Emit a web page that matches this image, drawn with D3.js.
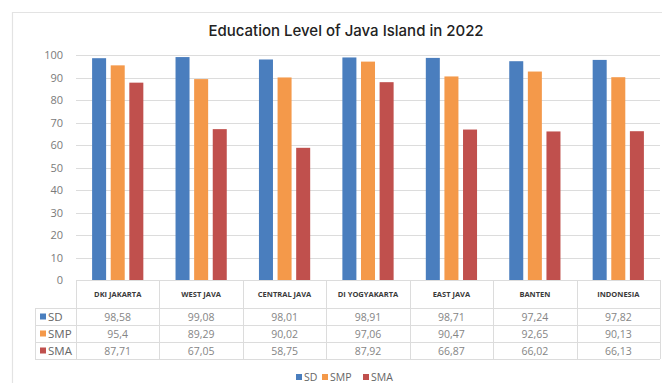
<!DOCTYPE html>
<html><head><meta charset="utf-8">
<script src="https://cdn.jsdelivr.net/npm/d3@7"></script>
<style>body{margin:0;background:#fff;}svg{display:block;}</style>
</head><body><svg id="c" width="662" height="383"></svg>
<script>
const categories = ["DKI JAKARTA","WEST JAVA","CENTRAL JAVA","DI YOGYAKARTA","EAST JAVA","BANTEN","INDONESIA"];
const seriesNames = ["SD","SMP","SMA"];
const sdValues  = [98.58, 99.08, 98.01, 98.91, 98.71, 97.24, 97.82];
const smpValues = [95.4, 89.29, 90.02, 97.06, 90.47, 92.65, 90.13];
const smaValues = [87.71, 67.05, 58.75, 87.92, 66.87, 66.02, 66.13];
const yTicks = [0,10,20,30,40,50,60,70,80,90,100];
const title = "Education Level of Java Island in 2022";

const colors = {SD:"#4A7EBE", SMP:"#F4994A", SMA:"#C0504D"};
const series = {SD: sdValues, SMP: smpValues, SMA: smaValues};

const svg = d3.select("#c");
const L = 76, R = 660, T = 55, B = 280;
const grid = "#dcdcdc";

// outer frame
svg.append("path").attr("d","M12.5,400 V12.5 H700").attr("fill","none").attr("stroke","#e3e3e3").attr("stroke-width",1.2);

svg.append("text").attr("x",346).attr("y",36).attr("text-anchor","middle")
  .attr("font-family","Inter, sans-serif").attr("font-size",15).attr("font-weight",500).attr("fill","#222")
  .text(title);

const y = d3.scaleLinear().domain([0,100]).range([B,T]);
const x = d3.scaleBand().domain(categories).range([L,R]).paddingInner(0).paddingOuter(0);
const xs = d3.scaleBand().domain(seriesNames).range([0,x.bandwidth()]).paddingOuter(0.865).paddingInner(0.247);

// grid
svg.append("g").selectAll("line").data(yTicks.filter(d=>d>0)).join("line")
  .attr("x1",L).attr("x2",R).attr("y1",d=>Math.round(y(d))+0.5).attr("y2",d=>Math.round(y(d))+0.5)
  .attr("stroke",grid).attr("stroke-width",1);

// y axis labels
const yAxis = d3.axisLeft(y).tickValues(yTicks).tickSize(0).tickPadding(13);
const ga = svg.append("g").attr("transform",`translate(${L},0)`).call(yAxis);
ga.select(".domain").remove();
ga.selectAll("text").attr("font-family","Open Sans, sans-serif").attr("font-size",11).attr("fill","#7a7a7a");

// bars
seriesNames.forEach(s=>{
  svg.append("g").selectAll("rect").data(categories).join("rect")
    .attr("x",(c)=>x(c)+xs(s)).attr("width",xs.bandwidth())
    .attr("y",(c,i)=>y(series[s][i])).attr("height",(c,i)=>B-y(series[s][i]))
    .attr("fill",colors[s]);
});

// table
const rowTop = 308, rowH = 17, labL = 35;
const tb = svg.append("g");
tb.append("line").attr("x1",L).attr("x2",R).attr("y1",B+0.5).attr("y2",B+0.5).attr("stroke",grid);
[0,1,2,3].forEach(i=>{
  tb.append("line").attr("x1",labL).attr("x2",R).attr("y1",rowTop+i*rowH+0.5).attr("y2",rowTop+i*rowH+0.5).attr("stroke",grid);
});
categories.concat(["_end"]).forEach((c,i)=>{
  const xx = L + i*x.bandwidth();
  tb.append("line").attr("x1",Math.round(xx)+0.5).attr("x2",Math.round(xx)+0.5).attr("y1",B).attr("y2",rowTop+3*rowH).attr("stroke",grid);
});
tb.append("line").attr("x1",labL+0.5).attr("x2",labL+0.5).attr("y1",rowTop).attr("y2",rowTop+3*rowH).attr("stroke",grid);

// header
tb.selectAll("text.h").data(categories).join("text").attr("class","h")
  .attr("x",c=>x(c)+x.bandwidth()/2).attr("y",297).attr("text-anchor","middle")
  .attr("font-family","Open Sans, sans-serif").attr("font-size",7.5).attr("font-weight",700).attr("fill","#3a3a3a")
  .text(c=>c);

const fmt = v => String(v).replace(".",",");
seriesNames.forEach((s,r)=>{
  const cy = rowTop + r*rowH + rowH/2;
  tb.append("rect").attr("x",40).attr("y",cy-3).attr("width",6).attr("height",6).attr("fill",colors[s]);
  tb.append("text").attr("x",48).attr("y",cy+4).attr("font-family","Open Sans, sans-serif").attr("font-size",11.5).attr("fill","#666").text(s);
  tb.selectAll(null).data(categories).join("text")
    .attr("x",c=>x(c)+x.bandwidth()/2).attr("y",cy+4).attr("text-anchor","middle")
    .attr("font-family","Open Sans, sans-serif").attr("font-size",10.5).attr("fill","#858585")
    .text((c,i)=>fmt(series[s][i]));
});

// legend
const lg = svg.append("g");
const lx = [296, 322, 363];
seriesNames.forEach((s,i)=>{
  lg.append("rect").attr("x",lx[i]).attr("y",374).attr("width",6).attr("height",6).attr("fill",colors[s]);
  lg.append("text").attr("x",lx[i]+8).attr("y",381).attr("font-family","Open Sans, sans-serif").attr("font-size",10.5).attr("fill","#666").text(s);
});
</script></body></html>
